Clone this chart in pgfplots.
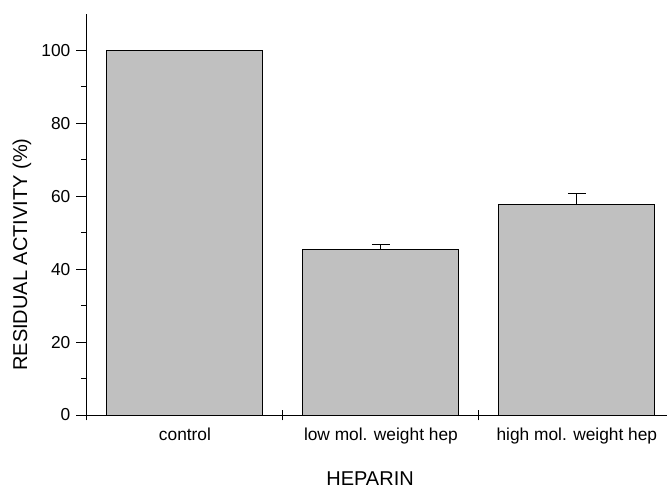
\documentclass[border=0pt]{standalone}
\usepackage{pgfplots}
\pgfplotsset{compat=1.18}
\usepackage{fontspec}
\setmainfont{Liberation Sans}
\definecolor{barfill}{RGB}{192,192,192}

\pgfplotstableread{
x  y     e
1  100.0 0.0
2  45.4  1.5
3  57.8  3.0
}\heparindata

\begin{document}
\begin{tikzpicture}
\begin{axis}[
  scale only axis, width=435pt, height=300.75pt,
  xmin=0.5, xmax=3.46, ymin=0, ymax=110,
  ybar, bar width=117pt,
  axis x line=bottom, axis y line=left,
  axis line style={-, line width=0.75pt},
  tick align=outside,
  major tick length=8pt, minor tick length=4.5pt,
  tick style={black, line width=0.75pt},
  ytick={0,20,...,100}, minor ytick={10,30,...,90},
  yticklabel style={xshift=-1pt},
  xtick={0.5,1.5,2.5}, xticklabels={},
  x tick style={yshift=4pt},
  extra x ticks={1,2,3},
  extra x tick labels={control, low mol. weight hep, high mol. weight hep},
  extra x tick style={major tick length=2pt, xticklabel style={yshift=-4.5pt}},
  /pgf/number format/assume math mode=true,
  ticklabel style={font=\fontsize{13}{15}\selectfont},
  label style={font=\fontsize{15}{18}\selectfont},
  xlabel={HEPARIN}, ylabel={RESIDUAL ACTIVITY (\%)},
  xlabel style={at={(rel axis cs:0.488,0)}, anchor=center, yshift=-48pt},
  ylabel style={at={(rel axis cs:0,0.4)}, anchor=center, yshift=48.75pt},
]
\addplot[fill=barfill, draw=black, line width=0.75pt,
  error bars/.cd, y dir=plus, y explicit,
  error bar style={line width=0.75pt, black},
  error mark options={rotate=90, mark size=6.75pt, line width=0.75pt, black}]
  table[x=x, y=y, y error=e] {\heparindata};
\end{axis}
\pgfresetboundingbox
\path (-65.25pt,-55.5pt) rectangle (435pt,311.25pt);
\end{tikzpicture}
\end{document}
